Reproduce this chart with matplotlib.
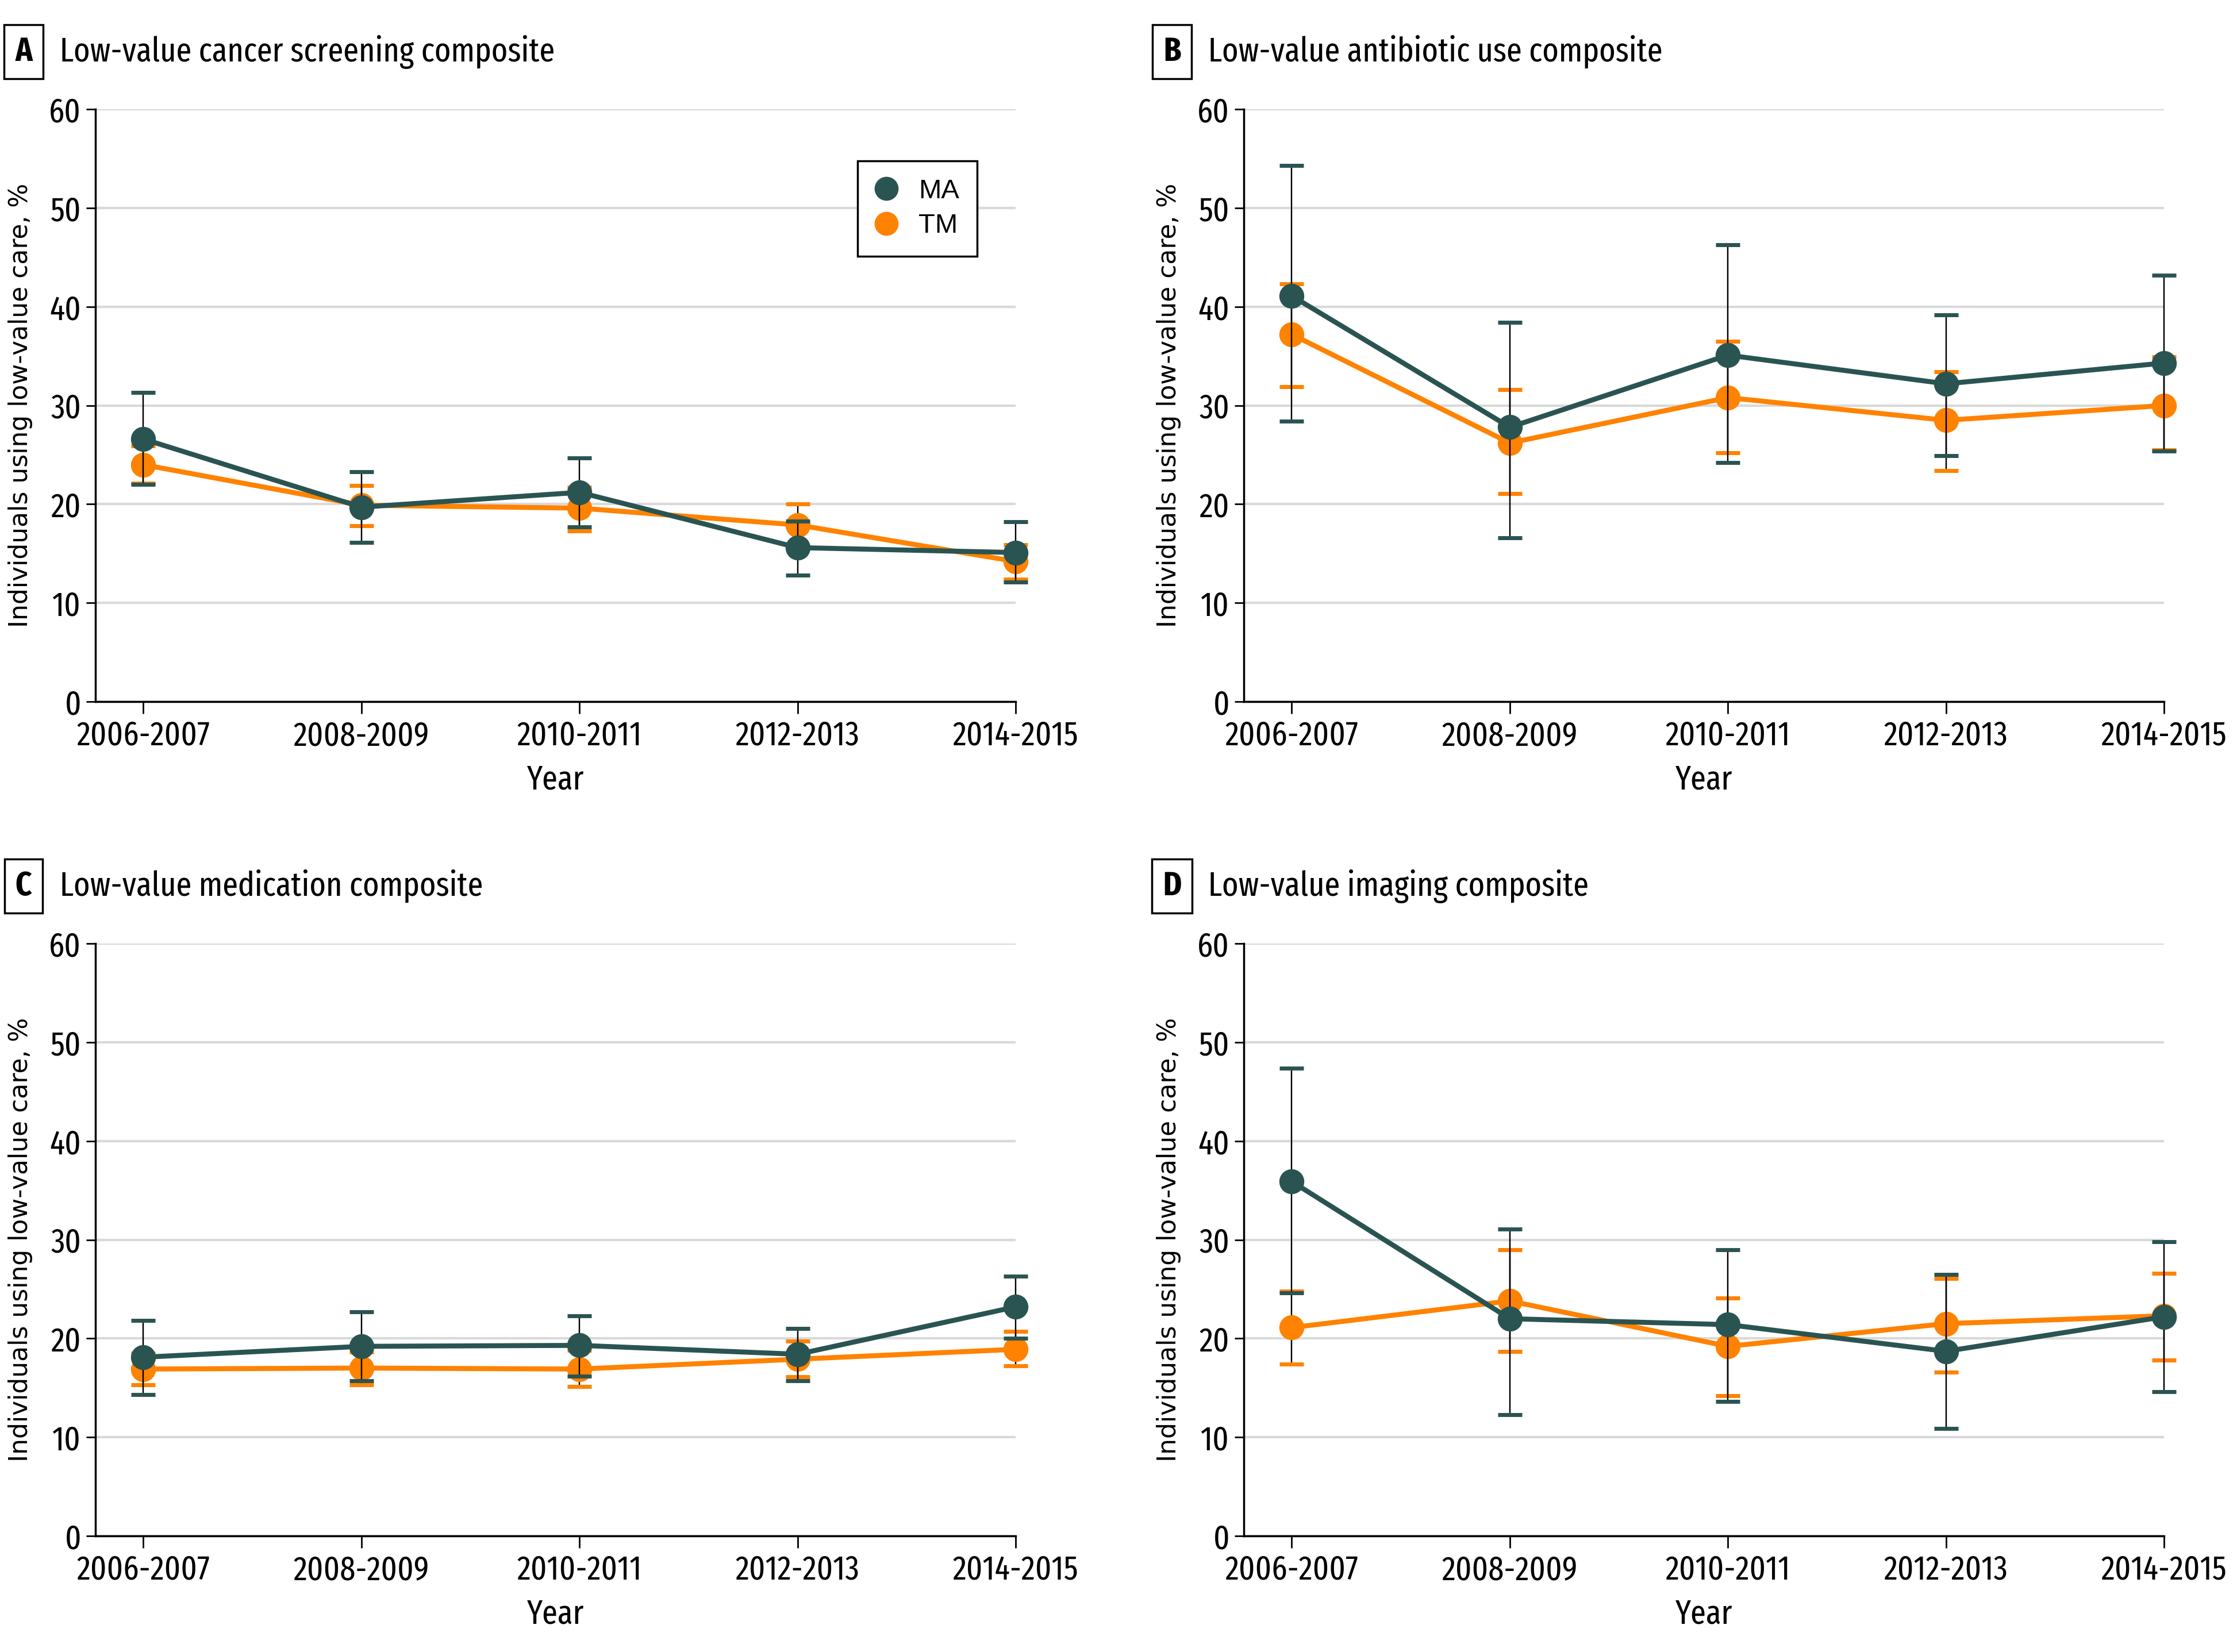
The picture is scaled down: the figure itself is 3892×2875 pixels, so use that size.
import numpy as np
import matplotlib
matplotlib.use("Agg")
import matplotlib.pyplot as plt
from matplotlib.lines import Line2D

# Data (percent of individuals using low-value care)
years = ['2006-2007', '2008-2009', '2010-2011', '2012-2013', '2014-2015']

# A - cancer screening
ma_cancer = [26.6, 19.7, 21.2, 15.6, 15.1]
ma_cancer_lo = [22.0, 16.1, 17.7, 12.8, 12.1]
ma_cancer_hi = [31.3, 23.3, 24.7, 18.3, 18.2]
tm_cancer = [24.0, 19.9, 19.6, 17.9, 14.2]
tm_cancer_lo = [22.1, 17.8, 17.3, 15.6, 12.4]
tm_cancer_hi = [25.9, 21.9, 21.7, 20.0, 15.9]

# B - antibiotic use
ma_antibiotic = [41.1, 27.8, 35.1, 32.2, 34.3]
ma_antibiotic_lo = [28.4, 16.6, 24.2, 24.9, 25.4]
ma_antibiotic_hi = [54.3, 38.4, 46.3, 39.2, 43.2]
tm_antibiotic = [37.2, 26.2, 30.8, 28.5, 30.0]
tm_antibiotic_lo = [31.9, 21.1, 25.2, 23.4, 25.5]
tm_antibiotic_hi = [42.3, 31.6, 36.5, 33.4, 34.9]

# C - medication
ma_medication = [18.1, 19.2, 19.3, 18.4, 23.2]
ma_medication_lo = [14.3, 15.7, 16.2, 15.7, 20.0]
ma_medication_hi = [21.8, 22.7, 22.3, 21.0, 26.3]
tm_medication = [16.9, 17.0, 16.9, 17.9, 18.9]
tm_medication_lo = [15.3, 15.3, 15.1, 16.1, 17.2]
tm_medication_hi = [18.5, 18.6, 18.8, 19.7, 20.7]

# D - imaging
ma_imaging = [35.9, 22.0, 21.4, 18.7, 22.2]
ma_imaging_lo = [24.6, 12.3, 13.6, 10.9, 14.6]
ma_imaging_hi = [47.4, 31.1, 29.0, 26.5, 29.8]
tm_imaging = [21.1, 23.8, 19.2, 21.5, 22.3]
tm_imaging_lo = [17.4, 18.7, 14.2, 16.6, 17.8]
tm_imaging_hi = [24.8, 29.0, 24.1, 26.1, 26.6]

TEAL = '#2a5452'
ORANGE = '#ff8200'
NARROW = ['Fira Sans Extra Condensed', 'DejaVu Sans']

plt.rcParams['font.family'] = NARROW

fig = plt.figure(figsize=(15.568, 11.5), dpi=250)

panels = [
    ('A', 'Low-value cancer screening composite', [0.04265, 0.5753],
     (ma_cancer, ma_cancer_lo, ma_cancer_hi), (tm_cancer, tm_cancer_lo, tm_cancer_hi)),
    ('B', 'Low-value antibiotic use composite', [0.5560, 0.5753],
     (ma_antibiotic, ma_antibiotic_lo, ma_antibiotic_hi), (tm_antibiotic, tm_antibiotic_lo, tm_antibiotic_hi)),
    ('C', 'Low-value medication composite', [0.04265, 0.0703],
     (ma_medication, ma_medication_lo, ma_medication_hi), (tm_medication, tm_medication_lo, tm_medication_hi)),
    ('D', 'Low-value imaging composite', [0.5560, 0.0703],
     (ma_imaging, ma_imaging_lo, ma_imaging_hi), (tm_imaging, tm_imaging_lo, tm_imaging_hi)),
]

x = np.arange(len(years))

for letter, title, (left, bottom), ma, tm in panels:
    ax = fig.add_axes([left, bottom, 0.4114, 0.3585])

    # TM first, MA on top
    for (vals, lo, hi), col, z in [(tm, ORANGE, 3), (ma, TEAL, 4)]:
        vals = np.array(vals)
        err = [vals - np.array(lo), np.array(hi) - vals]
        line, caps, bars = ax.errorbar(x, vals, yerr=err, fmt='-o', color=col,
                                       ecolor='black', elinewidth=0.7,
                                       capsize=6, capthick=2.0, lw=2.5, ms=11.5,
                                       zorder=z, clip_on=False)
        for c in caps:
            c.set_color(col)
            c.set_markeredgecolor(col)
            c.set_clip_on(False)
        for b in bars:
            b.set_clip_on(False)

    ax.set_xlim(-0.22, 4)
    ax.set_ylim(0, 60)
    ax.set_yticks(range(0, 61, 10))
    ax.set_xticks(x)
    ax.set_xticklabels(years)
    ax.spines['top'].set_visible(False)
    ax.spines['right'].set_visible(False)
    for s in ['left', 'bottom']:
        ax.spines[s].set_linewidth(1.0)
    ax.yaxis.grid(True, color='#d9d9d9', lw=1.2)
    ax.set_axisbelow(True)
    ax.tick_params(axis='y', length=4.6, width=0.8, pad=2.5, labelsize=17)
    ax.tick_params(axis='x', length=6, width=0.8, pad=3, labelsize=17)

    ax.set_xlabel('Year', fontsize=17)
    ax.xaxis.set_label_coords(0.5, -0.105)
    ax.set_ylabel('Individuals using low-value care, %', fontsize=12.7,
                  family='DejaVu Sans')
    ax.yaxis.set_label_coords(-0.068, 0.5)

    # panel letter box and title
    fig_top = bottom + 0.3585
    ty = fig_top + 0.0348
    fig.text(left - 0.0321, ty, letter, fontsize=17, fontweight='bold',
             ha='center', va='center',
             bbox=dict(boxstyle='square,pad=0.32', fc='white', ec='black', lw=1.0))
    fig.text(left - 0.0159, ty, title, fontsize=17, ha='left', va='center')

    if letter == 'A':
        handles = [Line2D([], [], ls='none', marker='o', ms=11, color=TEAL),
                   Line2D([], [], ls='none', marker='o', ms=11, color=ORANGE)]
        ax.legend(handles, ['MA', 'TM'], loc='upper right',
                  bbox_to_anchor=(0.958, 0.913), borderaxespad=0,
                  fancybox=False, edgecolor='black', framealpha=1,
                  prop={'family': 'Liberation Sans', 'size': 13.6},
                  borderpad=0.65, labelspacing=0.35, handlelength=0.8,
                  handletextpad=0.8)

fig.savefig('out.png', dpi=250)
